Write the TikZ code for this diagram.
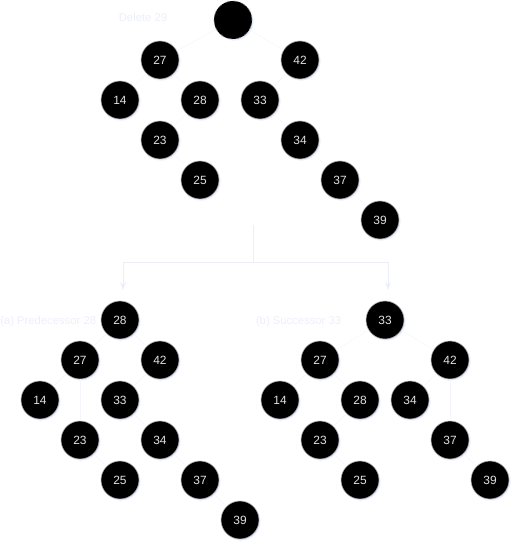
\documentclass[tikz,border=0pt]{standalone}
\usepackage{fontspec}
\setmainfont{Liberation Sans}
\usetikzlibrary{arrows.meta, shadows}
\definecolor{faint}{RGB}{236,239,251}
\definecolor{fainter}{RGB}{244,246,253}
\definecolor{glow}{RGB}{214,220,250}
\definecolor{keytext}{RGB}{225,225,225}

\begin{document}
\begin{tikzpicture}[x=0.025cm, y=-0.025cm, >=Stealth,
        key node/.style={circle, fill=black, draw=gray!60, thin, minimum size=0.95cm, inner sep=0pt,
            text=keytext, font=\fontsize{8.5}{9}\selectfont,
            circular drop shadow={fill=glow, shadow xshift=0.6pt, shadow yshift=-0.6pt, shadow scale=1.05}},
        gone node/.style={key node, dashed, draw=gray},
        caption/.style={text=faint, font=\fontsize{8}{9}\selectfont, anchor=east},
        link/.style={draw=fainter, thin}]

    \useasboundingbox (0,0) rectangle (522,552);

    % Drzewo przed usunieciem
    \node[gone node] (r) at (233,20) {};
    \node[key node] (t27) at (160,60) {27};
    \node[key node] (t42) at (300,60) {42};
    \node[key node] (t14) at (120,100) {14};
    \node[key node] (t28) at (200,100) {28};
    \node[key node] (t33) at (260,100) {33};
    \node[key node] (t23) at (160,140) {23};
    \node[key node] (t34) at (300,140) {34};
    \node[key node] (t25) at (200,180) {25};
    \node[key node] (t37) at (340,180) {37};
    \node[key node] (t39) at (380,220) {39};
    \node[caption] (cr) at (172,17) {Delete 29};

    \path[link] (r) edge (t27) (r) edge (t42);
    \path[link] (t27) edge (t14) (t27) edge (t28);
    \path[link] (t28) edge (t23) (t23) edge (t25);
    \path[link] (t42) edge (t33) (t33) edge (t34);
    \path[link] (t34) edge (t37) (t37) edge (t39);

    % Rozgalezienie
    \coordinate (s0) at (253,225);
    \coordinate (s1) at (253,262);
    \coordinate (sl) at (123,262);
    \coordinate (sr) at (388,262);
    \coordinate (el) at (123,290);
    \coordinate (er) at (388,290);
    \draw[faint, semithick] (s0) -- (s1);
    \draw[faint, semithick, ->] (s1) -- (sl) -- (el);
    \draw[faint, semithick, ->] (s1) -- (sr) -- (er);

    % Wariant (a)
    \node[key node] (a28) at (120,320) {28};
    \node[key node] (a27) at (80,360) {27};
    \node[key node] (a42) at (160,360) {42};
    \node[key node] (a14) at (40,400) {14};
    \node[key node] (a33) at (120,400) {33};
    \node[key node] (a23) at (80,440) {23};
    \node[key node] (a34) at (160,440) {34};
    \node[key node] (a25) at (120,480) {25};
    \node[key node] (a37) at (200,480) {37};
    \node[key node] (a39) at (240,520) {39};
    \node[caption] (ca) at (101,322) {(a) Predecessor 28};

    \path[link] (a28) edge (a27) (a28) edge (a42);
    \path[link] (a27) edge (a14) (a27) edge (a23) (a23) edge (a25);
    \path[link] (a42) edge (a33) (a33) edge (a34);
    \path[link] (a34) edge (a37) (a37) edge (a39);

    % Wariant (b)
    \node[key node] (b33) at (385,320) {33};
    \node[key node] (b27) at (320,360) {27};
    \node[key node] (b42) at (450,360) {42};
    \node[key node] (b14) at (280,400) {14};
    \node[key node] (b28) at (360,400) {28};
    \node[key node] (b34) at (410,400) {34};
    \node[key node] (b23) at (320,440) {23};
    \node[key node] (b37) at (450,440) {37};
    \node[key node] (b25) at (360,480) {25};
    \node[key node] (b39) at (490,480) {39};
    \node[caption] (cb) at (346,322) {(b) Successor 33};

    \path[link] (b33) edge (b27) (b33) edge (b42);
    \path[link] (b27) edge (b14) (b27) edge (b28);
    \path[link] (b28) edge (b23) (b23) edge (b25);
    \path[link] (b42) edge (b34) (b42) edge (b37) (b37) edge (b39);
\end{tikzpicture}
\end{document}
